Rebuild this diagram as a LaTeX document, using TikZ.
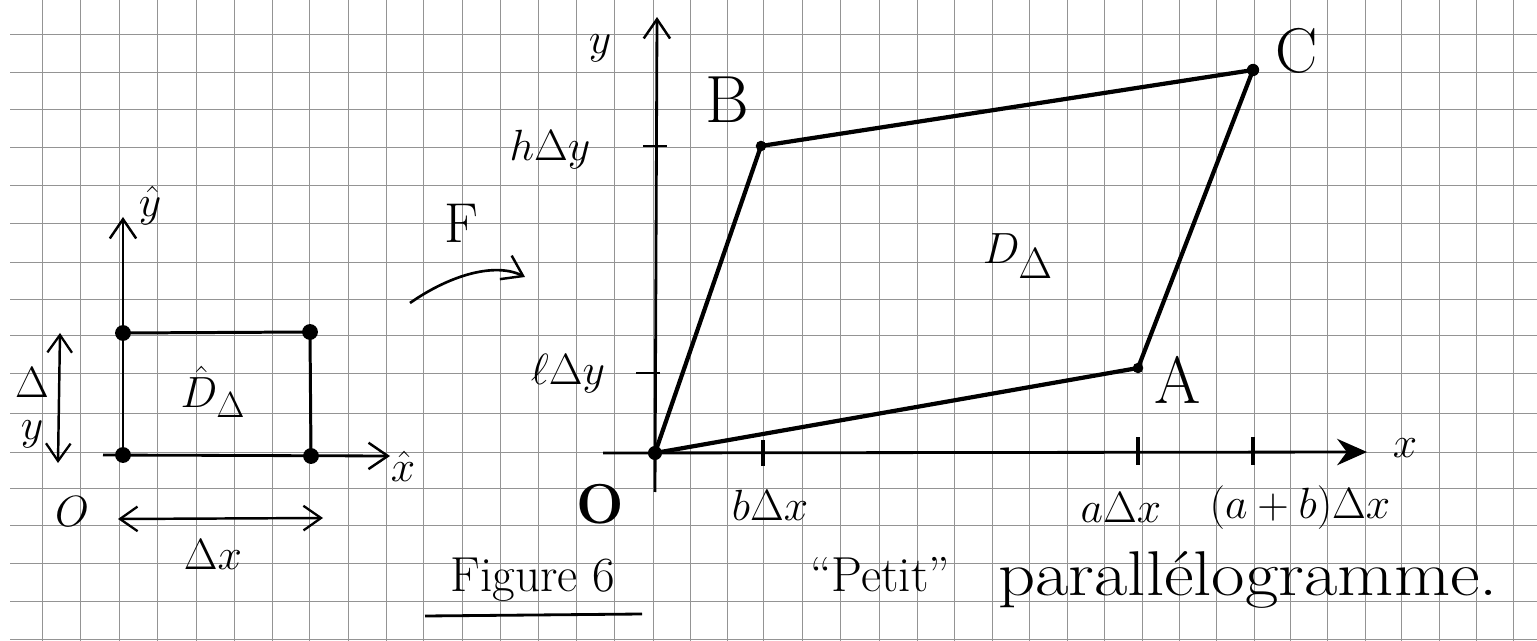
\documentclass[tikz,border=0pt]{standalone}
\usepackage{graphicx}
\usetikzlibrary{arrows.meta}
\newcommand{\fsz}[1]{\fontsize{#1}{#1}\selectfont}
\begin{document}
\begin{tikzpicture}[x=0.02cm,y=-0.02cm,
  grid/.style={black!42, line width=0.55pt},
  axis/.style={line width=1.6pt},
  edge/.style={line width=2.4pt, line cap=round, line join=round},
  sqedge/.style={line width=1.7pt},
  dot/.style={circle, fill=black, inner sep=0pt, minimum size=#1},
  dot/.default=8pt,
  lbl/.style={inner sep=0pt, font=\fsz{28}},
  barb/.style={-{Straight Barb[length=11pt,width=15pt,line width=1.4pt]}},
  dbarb/.style={{Straight Barb[length=10pt,width=14pt,line width=1.3pt]}-{Straight Barb[length=10pt,width=14pt,line width=1.3pt]}},
]
\useasboundingbox (0,0) rectangle (1537,641);
\fill[white] (0,0) rectangle (1537,641);
% graph paper
\foreach \gx in {42,80,119,157,196,234,272,309,348,386,423,462,500,538,576,614,653,690,727,763,802,840,879,917,954,992,1029,1067,1104,1142,1179,1216,1254,1290,1327,1365,1401,1439,1476,1513}
  \draw[grid] (\gx,0) -- (\gx,641);
\foreach \gy in {34,72,109,147,185,223,262,299,335,373,413,452,488,525,563,601,639}
  \draw[grid] (10,\gy) -- (1537,\gy);

% ---------- left: unit rectangle ----------
\node[dot=9pt] (p00) at (123,455) {};
\node[dot=9pt] (p10) at (311,456) {};
\node[dot=9pt] (p01) at (123,333) {};
\node[dot=9pt] (p11) at (310,332) {};
\coordinate (xh0) at (103,455);
\coordinate (xh1) at (390,456);
\coordinate (yh1) at (123,217);
\draw[axis, barb] (xh0) -- (xh1);
\draw[axis, barb] (p00.center) -- (yh1);
\draw[sqedge] (p01.center) -- (p11.center) -- (p10.center);
\node[lbl] (lxh) at (403,466) {$\hat{x}$};
\node[lbl] (lyh) at (150,206) {$\hat{y}$};
\node[lbl, font=\fsz{30}] (lDh) at (213,392) {$\hat{D}_\Delta$};
\coordinate (dy1) at (60,333);
\coordinate (dy2) at (58,463);
\draw[line width=1.4pt, dbarb] (dy1) -- (dy2);
\node[lbl, font=\fsz{28}, align=center] (ldy) at (32,408) {$\Delta$\\[-4pt]$y$};
\node[lbl, font=\fsz{24}] (lo) at (72,512) {$O$};
\coordinate (dx1) at (118,519);
\coordinate (dx2) at (323,518);
\draw[line width=1.4pt, dbarb] (dx1) -- (dx2);
\node[lbl, font=\fsz{30}] (ldx) at (213,555) {$\Delta x$};

% ---------- map F ----------
\node[lbl, font=\fsz{32}] (lF) at (461,223) {F};
\coordinate (fs) at (410,303);
\coordinate (fe) at (525,277);
\draw[line width=1.5pt, barb] (fs) .. controls (450,275) and (495,262) .. (fe);

% ---------- right: parallelogram ----------
\coordinate (yb) at (655,492);
\coordinate (yt) at (657,17);
\draw[axis, barb] (yb) -- (yt);
\coordinate (xl) at (603,453);
\coordinate (xr) at (1367,452);
\draw[axis, -{Stealth[length=17pt,width=15pt]}] (xl) -- (xr);
% ticks
\draw[axis] (643,146) -- (667,146);
\draw[axis] (636,373) -- (660,373);
\draw[line width=2.2pt] (763,440) -- (763,466);
\draw[line width=2.2pt] (1138,437) -- (1138,465);
\draw[line width=2.2pt] (1253,437) -- (1253,465);

\node[dot=8pt] (O) at (655,453) {};
\node[dot=6pt] (B) at (761,146) {};
\node[dot=6pt] (A) at (1138,368) {};
\node[dot=7pt] (C) at (1253,70) {};
\draw[edge] (O.center) -- (B.center) -- (C.center) -- (A.center) -- cycle;

\node[lbl, font=\fsz{40}] (ly) at (600,48) {$y$};
\node[lbl] (lh) at (550,150) {$h\Delta y$};
\node[lbl] (ll) at (568,374) {$\ell\Delta y$};
\node[lbl, font=\fsz{38}] (lB) at (727,100) {B};
\node[lbl, font=\fsz{36}] (lC) at (1297,51) {C};
\node[lbl, font=\fsz{38}] (lA) at (1178,380) {A};
\node[lbl, font=\fsz{32}] (lO) at (600,504) {\bfseries O};
\node[lbl, font=\fsz{32}] (lx) at (1405,448) {$x$};
\node[lbl, font=\fsz{26}] (lb) at (770,505) {$b\Delta x$};
\node[lbl] (la) at (1121,508) {$a\Delta x$};
\node[lbl] (lab) at (1300,508) {$(a+b)\Delta x$};
\node[lbl, font=\fsz{38}] (lD) at (1018,256) {$D_\Delta$};

% ---------- caption ----------
\node[lbl] (fig) at (533,580) {Figure 6};
\draw[line width=1.6pt] (425,616) -- (642,614);
\node[lbl] (petit) at (880,575) {``Petit''};
\node[lbl, font=\fsz{36}] (para) at (1248,580) {\scalebox{1.15}[1]{parallélogramme.}};
\end{tikzpicture}
\end{document}
